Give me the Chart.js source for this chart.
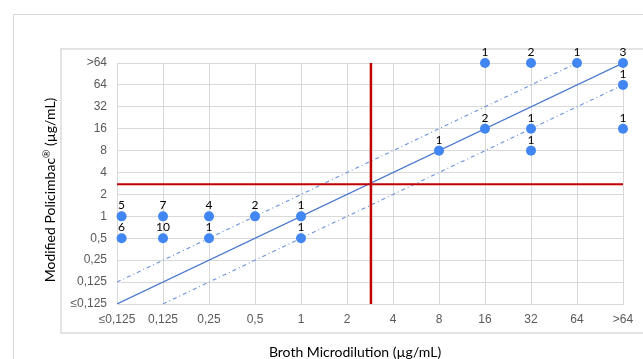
<!DOCTYPE html>
<html>
<head>
<meta charset="utf-8">
<script src="https://cdn.jsdelivr.net/npm/chart.js@4/dist/chart.umd.min.js"></script>
<style>
html,body{margin:0;padding:0;background:#fff;}
canvas{display:block;}
</style>
</head>
<body>
<canvas id="c" width="643" height="359"></canvas>
<script>
// Tick labels (category positions 0..11 on both axes)
const xLabels = ['≤0,125','0,125','0,25','0,5','1','2','4','8','16','32','64','>64'];
const yLabels = ['≤0,125','0,125','0,25','0,5','1','2','4','8','16','32','64','>64'];

// Observed points (position index on each axis) and isolate counts
const pointX = [0.1, 0.1, 1, 1, 2, 2, 3, 4, 4, 7, 8, 8, 9, 9, 9, 10, 11, 11, 11];
const pointY = [4,   3,   4, 3, 4, 3, 4, 4, 3, 7, 11, 8, 11, 8, 7, 11, 11, 10, 8];
const counts = [5,   6,   7, 10, 4, 1, 2, 1, 1, 1, 1, 2, 2, 1, 1, 1, 3, 1, 1];

// Reference lines
const identityLine = [[0, 0], [11, 11]];
const upperLine = [[0, 1], [10, 11]];
const lowerLine = [[1, 0], [11, 10]];
const breakpointX = 5.52;
const breakpointY = 5.47;

const xTitle = 'Broth Microdilution (µg/mL)';
const yTitleParts = ['Modified Policimbac', '®', ' (µg/mL)'];

const toXY = arr => arr.map(p => ({x: p[0], y: p[1]}));

const framePlugin = {
  id: 'frame',
  beforeDraw(chart) {
    const ctx = chart.ctx;
    ctx.save();
    ctx.strokeStyle = '#d9d9d9';
    ctx.lineWidth = 1;
    ctx.beginPath();
    ctx.moveTo(13.5, 359); ctx.lineTo(13.5, 14.5); ctx.lineTo(643, 14.5);
    ctx.stroke();
    ctx.lineWidth = 2;
    ctx.strokeStyle = '#e3e3e3';
    ctx.beginPath();
    ctx.moveTo(643, 49); ctx.lineTo(61, 49); ctx.lineTo(61, 333); ctx.lineTo(643, 333);
    ctx.stroke();
    ctx.restore();
  }
};

const textPlugin = {
  id: 'texts',
  afterDraw(chart) {
    const ctx = chart.ctx;
    const xs = chart.scales.x, ys = chart.scales.y;
    ctx.save();
    // data labels
    ctx.fillStyle = '#000';
    ctx.font = '12px Lato';
    ctx.textAlign = 'center';
    ctx.textBaseline = 'middle';
    for (let i = 0; i < counts.length; i++) {
      const px = xs.getPixelForValue(pointX[i]);
      const py = ys.getPixelForValue(pointY[i]);
      ctx.fillText(String(counts[i]), px, py - 11);
    }
    // x axis title
    ctx.font = '14px Lato';
    ctx.fillText(xTitle, 355, 352);
    // y axis title with superscript ®
    ctx.translate(50, 190);
    ctx.rotate(-Math.PI / 2);
    ctx.textAlign = 'left';
    ctx.font = '14px Lato';
    const w0 = ctx.measureText(yTitleParts[0]).width;
    const w2 = ctx.measureText(yTitleParts[2]).width;
    ctx.font = '10px Lato';
    const w1 = ctx.measureText(yTitleParts[1]).width;
    const total = w0 + w1 + w2;
    let x = -total / 2;
    ctx.font = '14px Lato';
    ctx.fillText(yTitleParts[0], x, 0);
    x += w0;
    ctx.font = '10px Lato';
    ctx.fillText(yTitleParts[1], x, -3);
    x += w1;
    ctx.font = '14px Lato';
    ctx.fillText(yTitleParts[2], x, 0);
    ctx.restore();
  }
};

const tickFont = {family: 'Liberation Sans', size: 12};

new Chart(document.getElementById('c'), {
  type: 'scatter',
  data: {
    datasets: [
      {
        label: 'points',
        data: pointX.map((x, i) => ({x: x, y: pointY[i]})),
        backgroundColor: '#4286f4',
        borderColor: '#4286f4',
        borderWidth: 0,
        pointRadius: 5,
        pointHoverRadius: 5,
        clip: false,
        order: 0
      },
      {
        label: 'breakX',
        type: 'line',
        data: [{x: breakpointX, y: 0}, {x: breakpointX, y: 11}],
        borderColor: '#c00000',
        borderWidth: 2.5,
        pointRadius: 0,
        order: 1
      },
      {
        label: 'breakY',
        type: 'line',
        data: [{x: 0, y: breakpointY}, {x: 11, y: breakpointY}],
        borderColor: '#c00000',
        borderWidth: 2,
        pointRadius: 0,
        order: 1
      },
      {
        label: 'identity',
        type: 'line',
        data: toXY(identityLine),
        borderColor: '#4a78cc',
        borderWidth: 1.2,
        pointRadius: 0,
        order: 2
      },
      {
        label: 'upper',
        type: 'line',
        data: toXY(upperLine),
        borderColor: '#6a92da',
        borderWidth: 1.1,
        borderDash: [4, 3, 1, 3],
        pointRadius: 0,
        order: 2
      },
      {
        label: 'lower',
        type: 'line',
        data: toXY(lowerLine),
        borderColor: '#6a92da',
        borderWidth: 1.1,
        borderDash: [4, 3, 1, 3],
        pointRadius: 0,
        order: 2
      }
    ]
  },
  options: {
    responsive: false,
    animation: false,
    devicePixelRatio: 1,
    layout: {padding: {left: 0, top: 63, right: 20, bottom: 0}},
    plugins: {legend: {display: false}, tooltip: {enabled: false}},
    events: [],
    scales: {
      x: {
        type: 'linear', min: 0, max: 11,
        afterFit: s => { s.height = 55; },
        ticks: {stepSize: 1, autoSkip: false, maxRotation: 0, padding: 8, color: '#595959', font: tickFont,
          callback: v => xLabels[v]},
        grid: {color: '#d9d9d9', drawTicks: false, lineWidth: 1},
        border: {color: '#d9d9d9'}
      },
      y: {
        type: 'linear', min: 0, max: 11,
        afterFit: s => { s.width = 117; },
        ticks: {stepSize: 1, autoSkip: false, padding: 10, color: '#595959', font: tickFont,
          callback: v => yLabels[v]},
        grid: {color: '#d9d9d9', drawTicks: false, lineWidth: 1},
        border: {color: '#d9d9d9'}
      }
    }
  },
  plugins: [framePlugin, textPlugin]
});
</script>
</body>
</html>
